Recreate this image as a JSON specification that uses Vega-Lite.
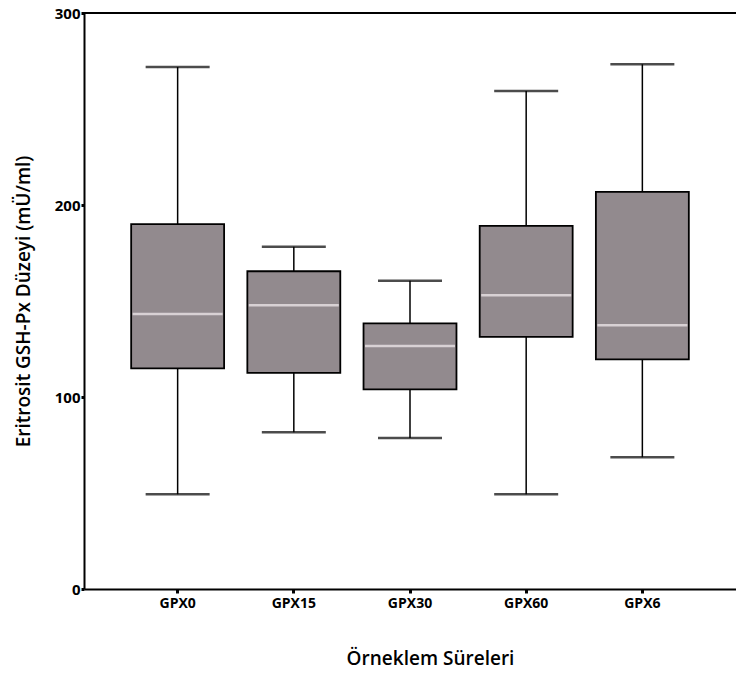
{
  "$schema": "https://vega.github.io/schema/vega-lite/v6.json",
  "width": 652,
  "height": 576,
  "autosize": "none",
  "padding": {"left": 84, "top": 13, "right": 0, "bottom": 89},
  "background": "white",
  "config": {
    "view": {"stroke": null},
    "font": "Open Sans",
    "axis": {
      "domainColor": "#000000",
      "domainWidth": 2,
      "tickColor": "#000000",
      "tickWidth": 3,
      "tickSize": 4,
      "grid": false,
      "labelColor": "#000000",
      "titleColor": "#000000",
      "labelFont": "Open Sans",
      "titleFont": "Open Sans"
    }
  },
  "data": {
    "values": [
      {"group": "GPX0", "lower": 49.3, "q1": 114.9, "median": 143.2, "q3": 190.0, "upper": 271.9},
      {"group": "GPX15", "lower": 81.6, "q1": 112.6, "median": 147.8, "q3": 165.5, "upper": 178.2},
      {"group": "GPX30", "lower": 78.6, "q1": 104.0, "median": 126.5, "q3": 138.3, "upper": 160.5},
      {"group": "GPX60", "lower": 49.3, "q1": 131.3, "median": 153.0, "q3": 189.1, "upper": 259.4},
      {"group": "GPX6", "lower": 68.6, "q1": 119.6, "median": 137.4, "q3": 206.8, "upper": 273.3}
    ]
  },
  "layer": [
    {
      "mark": {"type": "rule", "color": "#000000", "strokeWidth": 1.5},
      "encoding": {
        "x": {
          "field": "group",
          "type": "nominal",
          "sort": ["GPX0", "GPX15", "GPX30", "GPX60", "GPX6"],
          "scale": {"paddingInner": 0.2, "paddingOuter": 0.406},
          "axis": {
            "title": "Örneklem Süreleri",
            "labelAngle": 0,
            "labelFontSize": 14,
            "labelFontWeight": "bold",
            "labelPadding": 3,
            "titleFontSize": 19,
            "titleFontWeight": 600,
            "titlePadding": 39,
            "titleX": 346
          }
        },
        "y": {
          "field": "lower",
          "type": "quantitative",
          "scale": {"domain": [0, 300], "nice": false},
          "axis": {
            "title": "Eritrosit GSH-Px Düzeyi (mÜ/ml)",
            "values": [0, 100, 200, 300],
            "labelFontSize": 15,
            "labelFontWeight": "bold",
            "labelPadding": 1,
            "tickSize": 3,
            "titleFontSize": 19,
            "titleFontWeight": 600,
            "titlePadding": 21
          }
        },
        "y2": {"field": "upper"}
      }
    },
    {
      "mark": {"type": "bar", "color": "#928a8e", "stroke": "#000000", "strokeWidth": 1.8},
      "encoding": {
        "x": {"field": "group", "type": "nominal", "sort": ["GPX0", "GPX15", "GPX30", "GPX60", "GPX6"]},
        "y": {"field": "q1", "type": "quantitative"},
        "y2": {"field": "q3"}
      }
    },
    {
      "mark": {"type": "tick", "color": "#f6f0f2", "size": 90, "thickness": 2.5},
      "encoding": {
        "x": {"field": "group", "type": "nominal", "sort": ["GPX0", "GPX15", "GPX30", "GPX60", "GPX6"]},
        "y": {"field": "median", "type": "quantitative"}
      }
    },
    {
      "mark": {"type": "tick", "color": "#000000", "size": 64, "thickness": 2.5},
      "encoding": {
        "x": {"field": "group", "type": "nominal", "sort": ["GPX0", "GPX15", "GPX30", "GPX60", "GPX6"]},
        "y": {"field": "upper", "type": "quantitative"}
      }
    },
    {
      "mark": {"type": "tick", "color": "#000000", "size": 64, "thickness": 2.5},
      "encoding": {
        "x": {"field": "group", "type": "nominal", "sort": ["GPX0", "GPX15", "GPX30", "GPX60", "GPX6"]},
        "y": {"field": "lower", "type": "quantitative"}
      }
    },
    {
      "mark": {"type": "rule", "color": "#000000", "strokeWidth": 2},
      "encoding": {
        "y": {"datum": 300, "type": "quantitative"}
      }
    }
  ]
}
